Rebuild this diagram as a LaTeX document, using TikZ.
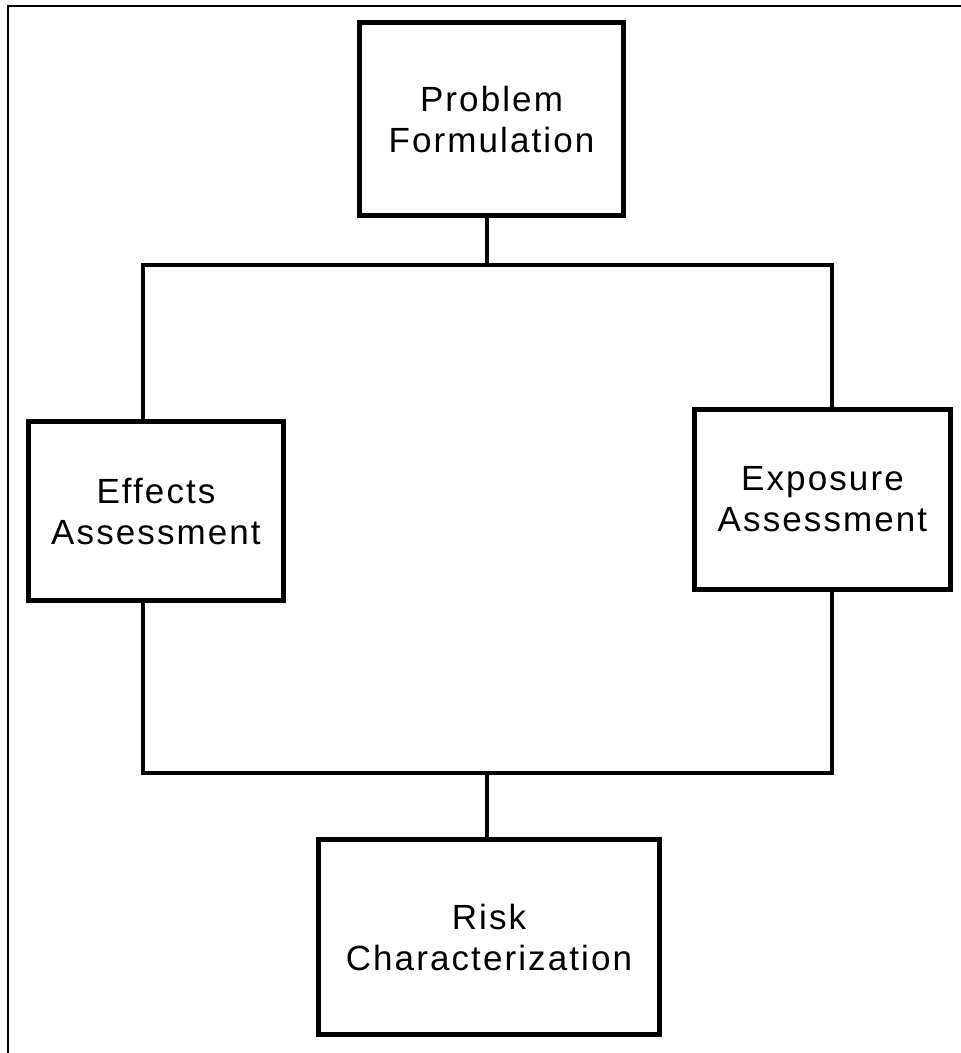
\documentclass[tikz,border=0pt]{standalone}
\usepackage{fontspec}
\usepackage{tikz}
\newfontfamily\boxfont{Liberation Sans}[LetterSpace=6]

\tikzset{
  stage/.style={draw, line width=5pt, inner sep=0pt, align=center,
    font=\boxfont\fontsize{35}{41}\selectfont},
  wire/.style={line width=3.5pt},
  frame/.style={line width=2.5pt}
}

\begin{document}
\begin{tikzpicture}[x=1pt, y=-1pt]
\useasboundingbox (0,0) rectangle (961,1053);
\draw[frame] (8,1053) -- (8,6) -- (961,6);

\node[stage, minimum width=264pt, minimum height=193pt] (pf) at (491.5,119) {Problem\\Formulation};
\node[stage, minimum width=255pt, minimum height=179pt] (ea) at (156,511) {Effects\\Assessment};
\node[stage, minimum width=256pt, minimum height=180pt] (ex) at (822.5,499.5) {Exposure\\Assessment};
\node[stage, minimum width=341pt, minimum height=195pt] (rc) at (489,937) {Risk\\Characterization};

\coordinate (tl) at (143,265);
\coordinate (tr) at (832,265);
\coordinate (bl) at (143,773);
\coordinate (br) at (832,773);

\draw[wire] (pf.south -| 487,0) -- (tl -| 487,0);
\draw[wire] (ea.north -| tl) -- (tl) -- (tr) -- (ex.north -| tr);
\draw[wire] (ea.south -| bl) -- (bl) -- (br) -- (ex.south -| br);
\draw[wire] (bl -| 487,0) -- (rc.north -| 487,0);
\end{tikzpicture}
\end{document}
